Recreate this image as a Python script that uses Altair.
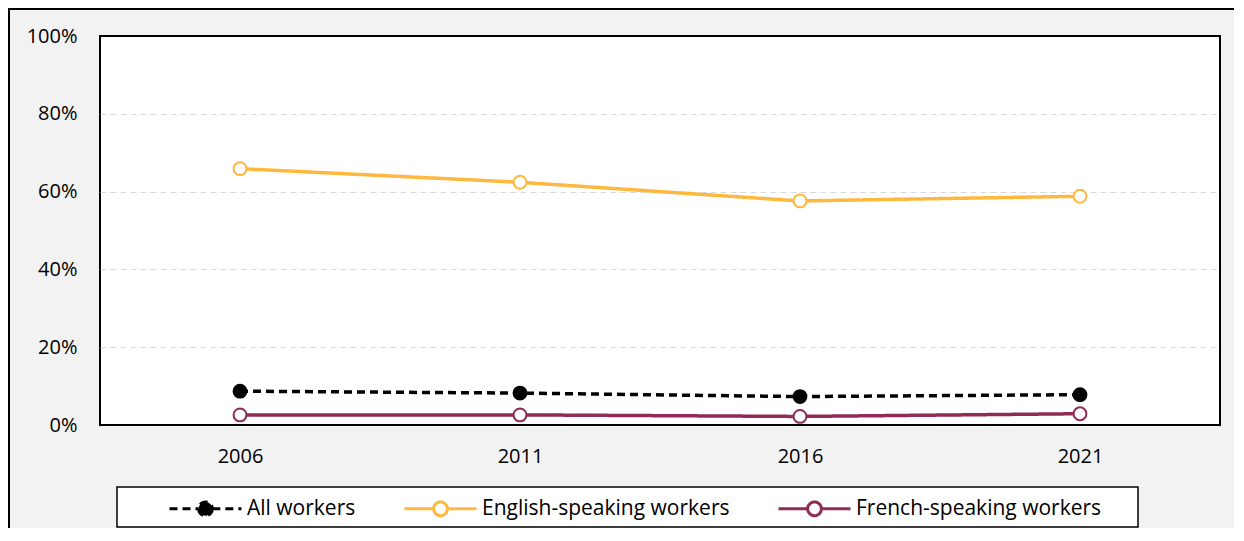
import altair as alt
import pandas as pd

years = ["2006", "2011", "2016", "2021"]
series_names = ["All workers", "English-speaking workers", "French-speaking workers"]
all_workers = [8.7, 8.2, 7.3, 7.8]
english = [65.9, 62.4, 57.6, 58.8]
french = [2.6, 2.6, 2.2, 2.9]
y_ticks = [0, 0.2, 0.4, 0.6, 0.8, 1.0]

rows = []
for name, vals in zip(series_names, [all_workers, english, french]):
    for yr, v in zip(years, vals):
        rows.append({"year": yr, "series": name, "share": v / 100})
df = pd.DataFrame(rows)

stroke_colors = ["#000000", "#ffb83f", "#8e2c55"]
fill_colors = ["#000000", "#ffffff", "#ffffff"]
dashes = [[8, 5], [1, 0], [1, 0]]

FONT = "Open Sans"
PW, PH = 1120, 389
PAD_L, PAD_T, PAD_R, PAD_B = 92, 28, 14, 103

x_enc = alt.X("year:O", scale=alt.Scale(type="point", padding=0.5),
              axis=alt.Axis(title=None, labelAngle=0, domain=False, ticks=False,
                            labelPadding=21, labelFontSize=20, labelColor="#000000",
                            labelFont=FONT, labelBaseline="top"))
y_enc = alt.Y("share:Q", scale=alt.Scale(domain=[0, 1], nice=False),
              axis=alt.Axis(title=None, values=y_ticks, format=".0%", domain=False, ticks=False,
                            labelPadding=23, labelFontSize=20, labelColor="#000000",
                            labelFont=FONT, grid=True, gridColor="#d9d9d9",
                            gridDash=[6, 4], gridWidth=1.2,
                            gridOpacity={"condition": {"test": "datum.value <= 0 || datum.value >= 1",
                                                       "value": 0}, "value": 1}))

stroke_scale = alt.Scale(domain=series_names, range=stroke_colors)
fill_scale = alt.Scale(domain=series_names, range=fill_colors)
dash_scale = alt.Scale(domain=series_names, range=dashes)

legend = alt.Legend(title=None, orient="none", legendX=68, legendY=435,
                    direction="horizontal", columns=3)

one = pd.DataFrame({"k": [0]})

legend_box = alt.Chart(one).mark_rect(
    fill="#ffffff", stroke="#000000", strokeWidth=1.5
).encode(x=alt.value(17), x2=alt.value(1038), y=alt.value(451), y2=alt.value(491))

outer_left = alt.Chart(one).mark_rule(
    color="#000000", strokeWidth=2
).encode(x=alt.value(-91), y=alt.value(-28), y2=alt.value(PH + PAD_B))

outer_top = alt.Chart(one).mark_rule(
    color="#000000", strokeWidth=2
).encode(x=alt.value(-92), x2=alt.value(PW + PAD_R), y=alt.value(-27))

base = alt.Chart(df)

lines = base.mark_line(strokeWidth=3.5).encode(
    x=x_enc, y=y_enc,
    stroke=alt.Stroke("series:N", scale=stroke_scale, legend=legend),
    strokeDash=alt.StrokeDash("series:N", scale=dash_scale, legend=legend),
)

points = base.mark_point(filled=True, strokeWidth=2, opacity=1, size=165, shape="circle").encode(
    x=x_enc, y=y_enc,
    stroke=alt.Stroke("series:N", scale=stroke_scale, legend=legend),
    fill=alt.Fill("series:N", scale=fill_scale, legend=legend),
)

chart = alt.layer(legend_box, outer_left, outer_top, lines, points).properties(
    width=PW, height=PH,
    autosize=alt.AutoSizeParams(type="none"),
    padding={"left": PAD_L, "top": PAD_T, "right": PAD_R, "bottom": PAD_B},
    background="#f2f2f2",
).configure_view(
    fill="#ffffff", stroke="#000000", strokeWidth=2
).configure_legend(
    symbolType="M-1,0H-0.19M0.19,0H1M0.19,0A0.19,0.19,0,1,1,-0.19,0A0.19,0.19,0,1,1,0.19,0Z",
    symbolSize=5184, symbolStrokeWidth=3, labelFont=FONT, labelFontSize=21,
    labelColor="#000000", labelOffset=4, columnPadding=42, labelLimit=400, padding=0,
)

chart.save("out.html", embed_options={"renderer": "svg", "actions": False})
